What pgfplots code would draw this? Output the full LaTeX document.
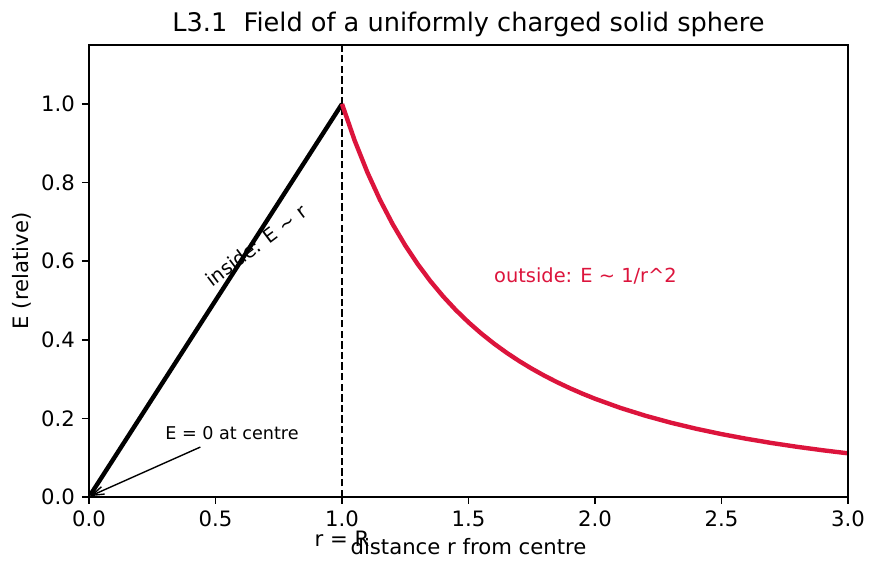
\documentclass[border=0pt]{standalone}
\usepackage{fontspec}
\setmainfont{DejaVu Sans}
\usepackage{pgfplots}
\pgfplotsset{compat=1.18}
\usetikzlibrary{arrows.meta}
\definecolor{crimson}{HTML}{DC143C}
\begin{document}
\begin{tikzpicture}
\begin{axis}[
  at={(0,0)}, anchor=south west,
  scale only axis, width=379.5pt, height=226pt,
  xmin=0, xmax=3, ymin=0, ymax=1.15,
  xtick={0,0.5,1,1.5,2,2.5,3},
  ytick={0,0.2,0.4,0.6,0.8,1.0},
  /pgf/number format/assume math mode=true,
  xticklabel style={/pgf/number format/.cd, fixed, fixed zerofill, precision=1},
  yticklabel style={/pgf/number format/.cd, fixed, fixed zerofill, precision=1},
  ticklabel style={font=\fontsize{10.6}{12}\selectfont},
  tick align=outside, tick pos=left,
  major tick length=3.5pt,
  every tick/.style={black, line width=0.8pt},
  axis line style={line width=0.8pt},
  title={L3.1\ \ Field of a uniformly charged solid sphere},
  every axis title shift=0pt,
  title style={font=\fontsize{12.8}{14}\selectfont, at={(axis description cs:0.5,1)}, anchor=base, yshift=6.5pt},
  xlabel={distance r from centre},
  xlabel style={font=\fontsize{10.6}{12}\selectfont, at={(axis description cs:0.5,0)}, anchor=base, yshift=-29pt},
  ylabel={E (relative)},
  ylabel style={font=\fontsize{10.6}{12}\selectfont, at={(axis description cs:-0.0883,0.5)}, anchor=center},
  clip=false,
  axis on top,
]
\addplot[black, line width=1pt, dash pattern=on 3.7pt off 1.6pt, forget plot] coordinates {(1,0) (1,1.15)};
\addplot[black, line width=2.2pt] coordinates {(0.004,0.004) (1,1)};
\addplot[crimson, line width=2.2pt] coordinates {
(1.00,1) (1.05,0.907029) (1.10,0.826446) (1.15,0.756144) (1.20,0.694444)
(1.25,0.64) (1.30,0.591716) (1.35,0.548697) (1.40,0.510204) (1.45,0.475624)
(1.50,0.444444) (1.55,0.416233) (1.60,0.390625) (1.65,0.367309) (1.70,0.346021)
(1.75,0.326531) (1.80,0.308642) (1.85,0.292184) (1.90,0.277008) (1.95,0.262985)
(2.00,0.25) (2.10,0.226757) (2.20,0.206612) (2.30,0.189036) (2.40,0.173611)
(2.50,0.16) (2.60,0.147929) (2.70,0.137174) (2.80,0.127551) (2.90,0.118906)
(2.996,0.111408)};
\node[rotate=37, font=\fontsize{9.7}{11}\selectfont] at (axis cs:0.66,0.64) {inside: E \textasciitilde{} r};
\node[anchor=west, text=crimson, font=\fontsize{9.7}{11}\selectfont, inner sep=0pt] at (axis cs:1.6,0.562) {outside: E \textasciitilde{} 1/r\textasciicircum{}2};
\node[anchor=west, font=\fontsize{8.8}{10}\selectfont, inner sep=0pt] at (axis cs:0.30,0.163) {E = 0 at centre};
\draw[line width=0.7pt, black, arrows={-Straight Barb[length=6pt,width=4pt,line width=0.7pt]}] (axis cs:0.44,0.127) -- (axis cs:0.004,0.002);
\node[anchor=base, font=\fontsize{10.6}{12}\selectfont, inner sep=0pt] at (axis cs:1,-0.125) {r = R};
\end{axis}
\pgfresetboundingbox
\path (-44.5pt,-38pt) rectangle (395pt,248.5pt);
\end{tikzpicture}
\end{document}
